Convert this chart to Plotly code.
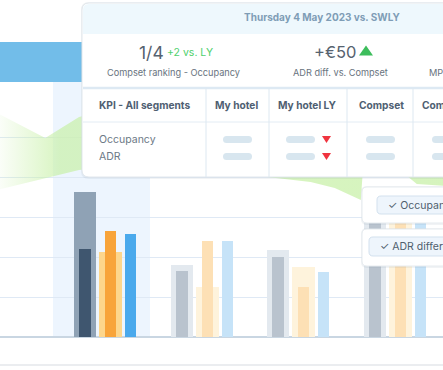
import plotly.graph_objects as go

W, H = 443, 370

# ---------------- data ----------------
days = [0, 1, 2, 3]                      # day index (Thu 4 May = selected)
selected_day = 0
my_hotel_ly = [72.5, 36.0, 43.5, 66.0]   # wide grey bars
my_hotel = [44.0, 33.0, 40.0, 62.0]      # narrow dark bars
compset_ly = [42.5, 25.0, 35.0, 64.0]    # wide orange bars
compset = [53.0, 48.0, 25.0, 60.0]       # narrow orange bars
market = [51.5, 48.0, 32.5, 60.0]        # blue bars
y_ticks = [0, 20, 40, 60, 80, 100]

adr_x = [-1.15, -0.65, -0.3, 0.4, 1.25, 1.65, 2.1, 2.35, 2.62, 2.64, 3.05, 3.2, 3.5]
adr_upper = [112, 99.5, 110, 118.5, 113.5, 108.5, 103.5, 101, 98.5, 98.5, 93.5, 92.5, 91]
adr_lower = [73.5, 79.5, 83.5, 87, 83.5, 80, 77.5, 74.5, 68.5, 82.5, 82.5, 76.5, 75.5]

title_text = "Thursday 4 May 2023 vs. SWLY"
kpi_cols = ["KPI - All segments", "My hotel", "My hotel LY", "Compset", "Compset LY"]
kpi_rows = ["Occupancy", "ADR"]

# ---------------- helpers ----------------
X0_PX, STEP_PX = 108.0, 96.5
def u(px):  # pixel width -> x units
    return px / STEP_PX

def P(x, y):
    return x / W, 1 - y / H

def rrect(x0, y0, x1, y1, r, top_only=False):
    def p(x, y):
        a, b = P(x, y)
        return f"{a:.5f},{b:.5f}"
    rb = 0 if top_only else r
    s = f"M {p(x0 + r, y0)} L {p(x1 - r, y0)} Q {p(x1, y0)} {p(x1, y0 + r)} "
    if rb:
        s += f"L {p(x1, y1 - rb)} Q {p(x1, y1)} {p(x1 - rb, y1)} L {p(x0 + rb, y1)} Q {p(x0, y1)} {p(x0, y1 - rb)} "
    else:
        s += f"L {p(x1, y1)} L {p(x0, y1)} "
    s += f"L {p(x0, y0 + r)} Q {p(x0, y0)} {p(x0 + r, y0)} Z"
    return s

def tri(cx, cy, w, h, up=True):
    def p(x, y):
        a, b = P(x, y)
        return f"{a:.5f},{b:.5f}"
    if up:
        return f"M {p(cx - w/2, cy + h/2)} L {p(cx + w/2, cy + h/2)} L {p(cx, cy - h/2)} Z"
    return f"M {p(cx - w/2, cy - h/2)} L {p(cx + w/2, cy - h/2)} L {p(cx, cy + h/2)} Z"

shapes = []
annotations = []
FONT = "Inter, Noto Sans, sans-serif"

def add_shape(path, fill, line=None, lw=0, layer="above"):
    shapes.append(dict(type="path", path=path, xref="paper", yref="paper",
                       fillcolor=fill, line=dict(color=line or fill, width=lw), layer=layer))

def hline(x0, x1, y, color, w=1, layer="above"):
    a0, b = P(x0, y)
    a1, _ = P(x1, y)
    shapes.append(dict(type="line", xref="paper", yref="paper", x0=a0, x1=a1, y0=b, y1=b,
                       line=dict(color=color, width=w), layer=layer))

def vline(x, y0, y1, color, w=1):
    a, b0 = P(x, y0)
    _, b1 = P(x, y1)
    shapes.append(dict(type="line", xref="paper", yref="paper", x0=a, x1=a, y0=b0, y1=b1,
                       line=dict(color=color, width=w), layer="above"))

def text(x, y, t, size, color, anchor="left", bold=False):
    a, b = P(x, y)
    annotations.append(dict(x=a, y=b, xref="paper", yref="paper", showarrow=False,
                            text=f"<b>{t}</b>" if bold else t, xanchor=anchor, yanchor="middle",
                            font=dict(size=size, color=color, family=FONT)))

# ---------------- chart traces ----------------
fig = go.Figure()

GREEN = "rgba(200,240,168,{a})"
fig.add_trace(go.Scatter(x=adr_x, y=adr_lower, mode="lines", line=dict(width=0),
                         hoverinfo="skip", showlegend=False))
fig.add_trace(go.Scatter(x=adr_x, y=adr_upper, mode="lines", line=dict(width=0),
                         fill="tonexty",
                         fillgradient=dict(type="horizontal",
                                           start=-1.15, stop=3.5,
                                           colorscale=[[0, GREEN.format(a=0.05)],
                                                       [0.14, GREEN.format(a=0.7)],
                                                       [1, GREEN.format(a=0.75)]]),
                         hoverinfo="skip", showlegend=False))

def cols(hi, lo):
    return [hi if d == selected_day else lo for d in days]

bar_specs = [
    (my_hotel_ly, -22.75, 22, cols("#8fa2b5", "#e3e9ef")),
    (my_hotel, -22.75, 12, cols("#3f566f", "#b9c3ce")),
    (compset_ly, 2.75, 23, cols("#fdd68c", "#fef3dc")),
    (compset, 2.75, 11, cols("#f8a43a", "#fde0b5")),
    (market, 22.75, 11, cols("#4aa9ec", "#c6e3f8")),
]
for vals, off, wpx, colors in bar_specs:
    fig.add_trace(go.Bar(x=days, y=vals, width=u(wpx), offset=u(off - wpx / 2),
                         marker=dict(color=colors, line=dict(width=0)),
                         hoverinfo="skip", showlegend=False))

# ---------------- background decorations ----------------
shapes.append(dict(type="rect", xref="x", yref="paper",
                   x0=selected_day - u(55.0), x1=selected_day + u(42.0),
                   y0=P(0, 337)[1], y1=P(0, 82)[1],
                   fillcolor="#edf5fe", line=dict(width=0), layer="below"))
add_shape(rrect(-5, 42, 100, 82, 0.01), "#72bde9", layer="below")
hline(0, W, 365, "#e4e7eb", 1.5)

# ---------------- tooltip card ----------------
add_shape(rrect(81, 2, 480, 179, 8), "rgba(120,140,160,0.10)")
add_shape(rrect(82, 3, 480, 177, 7), "#ffffff", "#e1e7ec", 1)
add_shape(rrect(83, 4, 480, 34, 6, top_only=True), "#eef8fd")
hline(83, W, 88, "#dde9f3", 2.5)
hline(83, W, 122, "#e3ecf4", 1)
for vx in [206, 269, 347, 413]:
    vline(vx, 88, 177, "#dde8f1", 1)

text(322, 18, title_text, 10, "#7f9db6", "center", bold=True)
text(137, 52, "1/4", 17.5, "#56626f")
text(165, 53, "+2 vs. LY", 10.5, "#4fd06c")
text(173, 72, "Compset ranking - Occupancy", 9.2, "#68737e", "center")
text(312, 52, "+€50", 16.5, "#56626f")
add_shape(tri(366, 50.5, 14, 10, up=True), "#3dbd5c")
text(340, 72, "ADR diff. vs. Compset", 9.2, "#68737e", "center")
text(427, 72, "MPI", 9.2, "#68737e")

hdr_x = [97, 213, 276, 357, 420]
for hx, lab in zip(hdr_x, kpi_cols):
    text(hx, 105, lab, 10.2, "#4f6072", bold=True)
row_y = [139.5, 156.5]
for ry, lab in zip(row_y, kpi_rows):
    text(97, ry, lab, 10.5, "#6c7986")
    for px0 in [223, 286, 366, 432]:
        add_shape(rrect(px0, ry - 3.5, px0 + 29, ry + 3.5, 3.5), "#d8e6ef")
    add_shape(tri(326.5, ry, 9, 7, up=False), "#f0343f")

# ---------------- toggle popups ----------------
for (py0, py1, pill_x, pill_y0, pill_y1, lab) in [
        (187, 223, 377, 196, 214, "✓ Occupancy"),
        (229, 266, 369, 237, 256, "✓ ADR difference")]:
    add_shape(rrect(361, py0 - 1, 480, py1 + 2, 6), "rgba(120,140,160,0.10)")
    add_shape(rrect(362, py0, 480, py1, 5), "#ffffff", "#e6ebef", 1)
    add_shape(rrect(pill_x, pill_y0, 480, pill_y1, 4), "#eef5fc", "#d3e1ee", 1)
    text(pill_x + 9, (pill_y0 + pill_y1) / 2, lab, 10.5, "#4f5e6d")

fig.update_layout(
    width=W, height=H, margin=dict(l=0, r=0, t=0, b=0),
    paper_bgcolor="#ffffff", plot_bgcolor="rgba(0,0,0,0)",
    barmode="overlay", bargap=0, showlegend=False,
    font=dict(family=FONT),
    xaxis=dict(range=[-X0_PX / STEP_PX, (W - X0_PX) / STEP_PX], showgrid=False,
               zeroline=False, showticklabels=False, ticks="", fixedrange=True),
    yaxis=dict(range=[-16.5, 168.5], tickvals=y_ticks, showgrid=True,
               gridcolor="#dfe9f5", gridwidth=1, zeroline=True, zerolinecolor="#c9d6e2",
               zerolinewidth=1.5, showticklabels=False, ticks="", fixedrange=True),
    shapes=shapes, annotations=annotations,
)

fig.write_html("out.html", config=dict(displayModeBar=False),
               post_script="document.body.style.margin='0';document.body.style.overflow='hidden';")
